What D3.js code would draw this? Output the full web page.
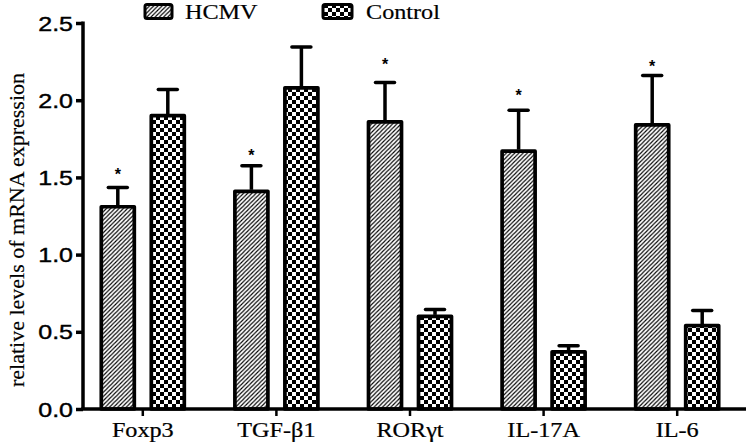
<!DOCTYPE html>
<html><head><meta charset="utf-8">
<script src="https://cdn.jsdelivr.net/npm/d3@7"></script>
<style>html,body{margin:0;padding:0;background:#fff;}svg{display:block;}</style>
</head><body>
<script>
const categories = ["Foxp3", "TGF-β1", "RORγt", "IL-17A", "IL-6"];
const seriesNames = ["HCMV", "Control"];
const hcmvMean = [1.31, 1.41, 1.86, 1.67, 1.84];
const hcmvSEM = [0.125, 0.165, 0.255, 0.265, 0.32];
const controlMean = [1.90, 2.08, 0.60, 0.37, 0.54];
const controlSEM = [0.17, 0.265, 0.045, 0.04, 0.098];
const starLevel = [1.54, 1.665, 2.255, 2.05, 2.24];
const yTicks = [0.0, 0.5, 1.0, 1.5, 2.0, 2.5];
const yTitle = "relative levels of mRNA expression";

const W = 750, H = 443;
const svg = d3.select("body").append("svg").attr("width", W).attr("height", H)
  .style("font-family", "'Liberation Serif','Times New Roman',serif");

const defs = svg.append("defs");
const hatch = defs.append("pattern").attr("id", "hatch").attr("patternUnits", "userSpaceOnUse")
  .attr("width", 4.2).attr("height", 4.2);
hatch.append("rect").attr("width", 4.2).attr("height", 4.2).attr("fill", "#fff");
hatch.append("path").attr("d", "M-1,1 L1,-1 M0,4.2 L4.2,0 M3.2,5.2 L5.2,3.2")
  .attr("stroke", "#000").attr("stroke-width", 1.15);
const checker = defs.append("pattern").attr("id", "checker").attr("patternUnits", "userSpaceOnUse")
  .attr("width", 8).attr("height", 8);
checker.append("rect").attr("width", 8).attr("height", 8).attr("fill", "#fff");
checker.append("rect").attr("width", 4).attr("height", 4).attr("fill", "#000");
checker.append("rect").attr("x", 4).attr("y", 4).attr("width", 4).attr("height", 4).attr("fill", "#000");
const fills = {HCMV: "url(#hatch)", Control: "url(#checker)"};

const y0 = 409, yTop = 23, xAxisLeft = 83, xAxisRight = 746;
const x = d3.scaleBand().domain(categories).range([76, 744]).padding(0);
const xs = d3.scalePoint().domain(seriesNames).range([-25, 25]);
const y = d3.scaleLinear().domain([0, 2.5]).range([y0, yTop]);

const data = [];
categories.forEach((c, i) => {
  data.push({cat: c, s: "HCMV", m: hcmvMean[i], e: hcmvSEM[i], star: starLevel[i]});
  data.push({cat: c, s: "Control", m: controlMean[i], e: controlSEM[i], star: null});
});
const cx = d => x(d.cat) + x.bandwidth() / 2 + xs(d.s);
const barW = 33;

// bars
svg.append("g").selectAll("rect").data(data).join("rect")
  .attr("x", d => cx(d) - barW / 2).attr("width", barW)
  .attr("y", d => y(d.m)).attr("height", d => y0 - y(d.m))
  .attr("fill", d => fills[d.s]).attr("stroke", "#000").attr("stroke-width", 3.7)
  .attr("stroke-linejoin", "round");

// error bars
const eb = svg.append("g").attr("stroke", "#000").attr("stroke-width", 3.5);
eb.selectAll("line.v").data(data).join("line").attr("class", "v")
  .attr("x1", cx).attr("x2", cx).attr("y1", d => y(d.m) - 1.5).attr("y2", d => y(d.m + d.e));
eb.selectAll("line.c").data(data).join("line").attr("class", "c")
  .attr("stroke-linecap", "round")
  .attr("x1", d => cx(d) - 9.5).attr("x2", d => cx(d) + 9.5)
  .attr("y1", d => y(d.m + d.e)).attr("y2", d => y(d.m + d.e));

// stars
svg.append("g").selectAll("text").data(data.filter(d => d.star != null)).join("text")
  .attr("x", cx).attr("y", d => y(d.star) + 9)
  .attr("text-anchor", "middle").style("font-family", "'Liberation Sans',Arial,sans-serif")
  .style("font-size", "16px").style("font-weight", "bold").text("*");

// y axis
const yAxis = svg.append("g").attr("transform", `translate(${xAxisLeft},0)`)
  .call(d3.axisLeft(y).tickValues(yTicks).tickFormat(d3.format(".1f")).tickSize(7).tickPadding(4));
yAxis.select(".domain").attr("d", `M0,${yTop - 1.5}V${y0}`).attr("stroke-width", 3.5);
yAxis.selectAll(".tick line").attr("stroke-width", 3.5);
yAxis.selectAll(".tick text")
  .style("font-family", "'Liberation Sans',Arial,sans-serif").style("font-size", "20px")
  .attr("fill", "#000").attr("stroke", "#000").attr("stroke-width", 0.4)
  .attr("transform", "scale(1.25,1)").attr("x", -10 / 1.25)
  .attr("dy", "0.35em");

// x axis
const xAxis = svg.append("g").attr("transform", `translate(0,${y0})`)
  .call(d3.axisBottom(x).tickSize(7).tickPadding(6));
xAxis.select(".domain").attr("d", `M${xAxisLeft - 1.75},0H${xAxisRight}`).attr("stroke-width", 3.5);
xAxis.selectAll(".tick line").attr("stroke-width", 2.5);
xAxis.selectAll(".tick text")
  .style("font-family", "'Liberation Serif','Times New Roman',serif").style("font-size", "22px")
  .attr("fill", "#000").attr("stroke", "#000").attr("stroke-width", 0.25).attr("y", 0).attr("dy", 0)
  .attr("transform", "translate(0,28) scale(1.1,1)");

// y title
svg.append("text").attr("transform", "translate(24,230) rotate(-90)")
  .attr("text-anchor", "middle").style("font-size", "22px")
  .attr("stroke", "#000").attr("stroke-width", 0.2).text(yTitle);

// legend
const legend = [
  {name: "HCMV", sx: 145, sw: 27, tx: 185},
  {name: "Control", sx: 323, sw: 29, tx: 366}
];
const lg = svg.append("g").selectAll("g").data(legend).join("g");
lg.append("rect").attr("x", d => d.sx).attr("y", 4.5).attr("width", d => d.sw).attr("height", 14)
  .attr("rx", 2).attr("fill", d => fills[d.name]).attr("stroke", "#000").attr("stroke-width", 3);
lg.append("text").attr("transform", d => `translate(${d.tx},19) scale(1.1,1)`)
  .style("font-size", "22px").attr("stroke", "#000").attr("stroke-width", 0.2).text(d => d.name);
</script>
</body></html>
